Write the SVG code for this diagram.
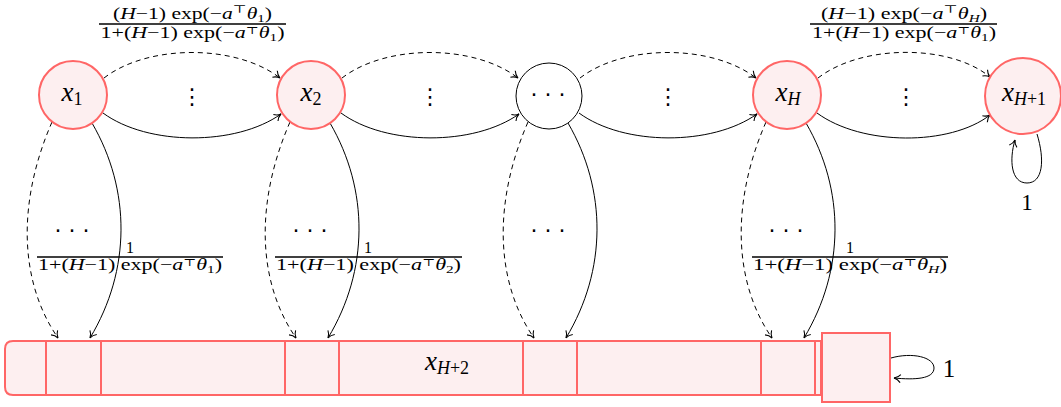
<svg xmlns="http://www.w3.org/2000/svg" width="1061" height="407" viewBox="0 0 1061 407">
<style>
.nd{fill:#fdeff0;stroke:#ff6666;stroke-width:2}
.pl{fill:#fff;stroke:#000;stroke-width:1}
.e{fill:none;stroke:#000;stroke-width:1;marker-end:url(#ar)}
.d{stroke-dasharray:5 4}
.t{font-family:"Liberation Serif","Times New Roman","DejaVu Serif",serif;fill:#000}
.i{font-style:italic}
.f{font-size:16px}
.lb{font-size:27px}
.sb{font-size:18px}
.dots{font-family:"DejaVu Sans",sans-serif;font-size:22px}
.fl{stroke:#000;stroke-width:1.3}
</style>
<defs>
<marker id="ar" viewBox="-8 -5 10 10" refX="0" refY="0" markerWidth="10" markerHeight="10" markerUnits="userSpaceOnUse" orient="auto">
<path d="M-6.5,-4 C-4.5,-1.5 -2,-0.4 0,0 C-2,0.4 -4.5,1.5 -6.5,4" fill="none" stroke="#000" stroke-width="1.1"/>
</marker>
</defs>

<g id="connectors">
<path class="e d" d="M104,78 C148,44 236,44 280,78"/>
<path class="e" d="M103,113 C148,146 236,146 281,114"/>
<path class="e d" d="M342,78 C386,44 474,44 518,78"/>
<path class="e" d="M341,113 C386,146 474,146 519,114"/>
<path class="e d" d="M580,78 C624,44 712,44 756,78"/>
<path class="e" d="M579,113 C624,146 712,146 757,114"/>
<path class="e d" d="M818,78 C862,44 950,44 990,77"/>
<path class="e" d="M817,113 C862,146 950,146 990,115"/>

<path class="e d" d="M52,122 C18,200 18,280 58,338"/>
<path class="e" d="M92,123 C131,190 131,270 90,338"/>
<path class="e d" d="M290,122 C256,200 256,280 296,338"/>
<path class="e" d="M330,123 C369,190 369,270 328,338"/>
<path class="e d" d="M528,122 C494,200 494,280 534,338"/>
<path class="e" d="M568,123 C607,190 607,270 566,338"/>
<path class="e d" d="M766,122 C732,200 732,280 772,338"/>
<path class="e" d="M806,123 C845,190 845,270 804,338"/>

<path class="e" d="M1037,134 C1045,160 1043,183 1027,183 C1011,183 1009,160 1015,140"/>
<path class="e" d="M891,358 C912,352 934,357 934,368 C934,379 915,380 894,378"/>
</g>

<g id="labels">
<text class="t f" x="192.5" y="18.5" text-anchor="middle" textLength="159" lengthAdjust="spacingAndGlyphs">(<tspan class="i">H</tspan>−1) exp(−<tspan class="i">a</tspan><tspan font-size="11" dy="-6">⊤</tspan><tspan class="i" dy="6">θ</tspan><tspan font-size="11" dy="3">1</tspan><tspan dy="-3">)</tspan></text>
<line class="fl" x1="99" y1="24" x2="286" y2="24"/>
<text class="t f" x="192.5" y="38" text-anchor="middle" textLength="184" lengthAdjust="spacingAndGlyphs">1+(<tspan class="i">H</tspan>−1) exp(−<tspan class="i">a</tspan><tspan font-size="10" dy="-4">⊤</tspan><tspan class="i" dy="4">θ</tspan><tspan font-size="11" dy="3">1</tspan><tspan dy="-3">)</tspan></text>

<text class="t f" x="904" y="18.5" text-anchor="middle" textLength="166" lengthAdjust="spacingAndGlyphs">(<tspan class="i">H</tspan>−1) exp(−<tspan class="i">a</tspan><tspan font-size="11" dy="-6">⊤</tspan><tspan class="i" dy="6">θ</tspan><tspan font-size="11" class="i" dy="3">H</tspan><tspan dy="-3">)</tspan></text>
<line class="fl" x1="810" y1="24" x2="997" y2="24"/>
<text class="t f" x="904" y="38" text-anchor="middle" textLength="184" lengthAdjust="spacingAndGlyphs">1+(<tspan class="i">H</tspan>−1) exp(−<tspan class="i">a</tspan><tspan font-size="10" dy="-4">⊤</tspan><tspan class="i" dy="4">θ</tspan><tspan font-size="11" dy="3">1</tspan><tspan dy="-3">)</tspan></text>

<text class="t f" x="130" y="253" text-anchor="middle">1</text>
<line class="fl" x1="37" y1="257" x2="223" y2="257"/>
<text class="t f" x="130" y="270" text-anchor="middle" textLength="184" lengthAdjust="spacingAndGlyphs">1+(<tspan class="i">H</tspan>−1) exp(−<tspan class="i">a</tspan><tspan font-size="10" dy="-4">⊤</tspan><tspan class="i" dy="4">θ</tspan><tspan font-size="11" dy="3">1</tspan><tspan dy="-3">)</tspan></text>

<text class="t f" x="368" y="253" text-anchor="middle">1</text>
<line class="fl" x1="275" y1="257" x2="462" y2="257"/>
<text class="t f" x="368.5" y="270" text-anchor="middle" textLength="185" lengthAdjust="spacingAndGlyphs">1+(<tspan class="i">H</tspan>−1) exp(−<tspan class="i">a</tspan><tspan font-size="10" dy="-4">⊤</tspan><tspan class="i" dy="4">θ</tspan><tspan font-size="11" dy="3">2</tspan><tspan dy="-3">)</tspan></text>

<text class="t f" x="850" y="253" text-anchor="middle">1</text>
<line class="fl" x1="752" y1="257" x2="948" y2="257"/>
<text class="t f" x="850" y="270" text-anchor="middle" textLength="194" lengthAdjust="spacingAndGlyphs">1+(<tspan class="i">H</tspan>−1) exp(−<tspan class="i">a</tspan><tspan font-size="10" dy="-4">⊤</tspan><tspan class="i" dy="4">θ</tspan><tspan font-size="11" class="i" dy="3">H</tspan><tspan dy="-3">)</tspan></text>

<text class="dots" x="192" y="104" text-anchor="middle">⋮</text>
<text class="dots" x="430" y="104" text-anchor="middle">⋮</text>
<text class="dots" x="668" y="104" text-anchor="middle">⋮</text>
<text class="dots" x="906" y="104" text-anchor="middle">⋮</text>
<text class="dots" x="72" y="238" text-anchor="middle" font-size="20">· · ·</text>
<text class="dots" x="310" y="238" text-anchor="middle" font-size="20">· · ·</text>
<text class="dots" x="548" y="238" text-anchor="middle" font-size="20">· · ·</text>
<text class="dots" x="786" y="238" text-anchor="middle" font-size="20">· · ·</text>

<text class="t" font-size="23" x="1027" y="210" text-anchor="middle">1</text>
<text class="t" font-size="25" x="949" y="377" text-anchor="middle">1</text>
</g>

<g id="n1"><circle class="nd" cx="73" cy="95" r="34"/><text class="t lb" x="72" y="101" text-anchor="middle"><tspan class="i">x</tspan><tspan class="sb" dy="4">1</tspan></text></g>
<g id="n2"><circle class="nd" cx="311" cy="95" r="34"/><text class="t lb" x="311" y="101" text-anchor="middle"><tspan class="i">x</tspan><tspan class="sb" dy="4">2</tspan></text></g>
<g id="n3"><circle class="pl" cx="549" cy="96" r="33"/><text class="dots" x="548" y="102" text-anchor="middle" font-size="20">· · ·</text></g>
<g id="nH"><circle class="nd" cx="787" cy="95" r="34"/><text class="t lb" x="788" y="101" text-anchor="middle"><tspan class="i">x</tspan><tspan class="sb i" dy="4">H</tspan></text></g>
<g id="nH1"><circle class="nd" cx="1023" cy="96" r="38"/><text class="t lb" x="1024" y="101" text-anchor="middle"><tspan class="i">x</tspan><tspan class="sb" dy="4"><tspan class="i">H</tspan>+1</tspan></text></g>

<g id="nH2">
<path class="nd" d="M13,341 H821 V395 H13 Q5,395 5,387 V349 Q5,341 13,341 Z"/>
<rect class="nd" x="46" y="341" width="55" height="54"/>
<rect class="nd" x="285" y="341" width="54" height="54"/>
<rect class="nd" x="523" y="341" width="54" height="54"/>
<rect class="nd" x="761" y="341" width="54" height="54"/>
<text class="t lb" x="447" y="370" text-anchor="middle"><tspan class="i">x</tspan><tspan class="sb" dy="4"><tspan class="i">H</tspan>+2</tspan></text>
</g>
<g id="box"><rect class="nd" x="822" y="333" width="68" height="69"/></g>
</svg>
